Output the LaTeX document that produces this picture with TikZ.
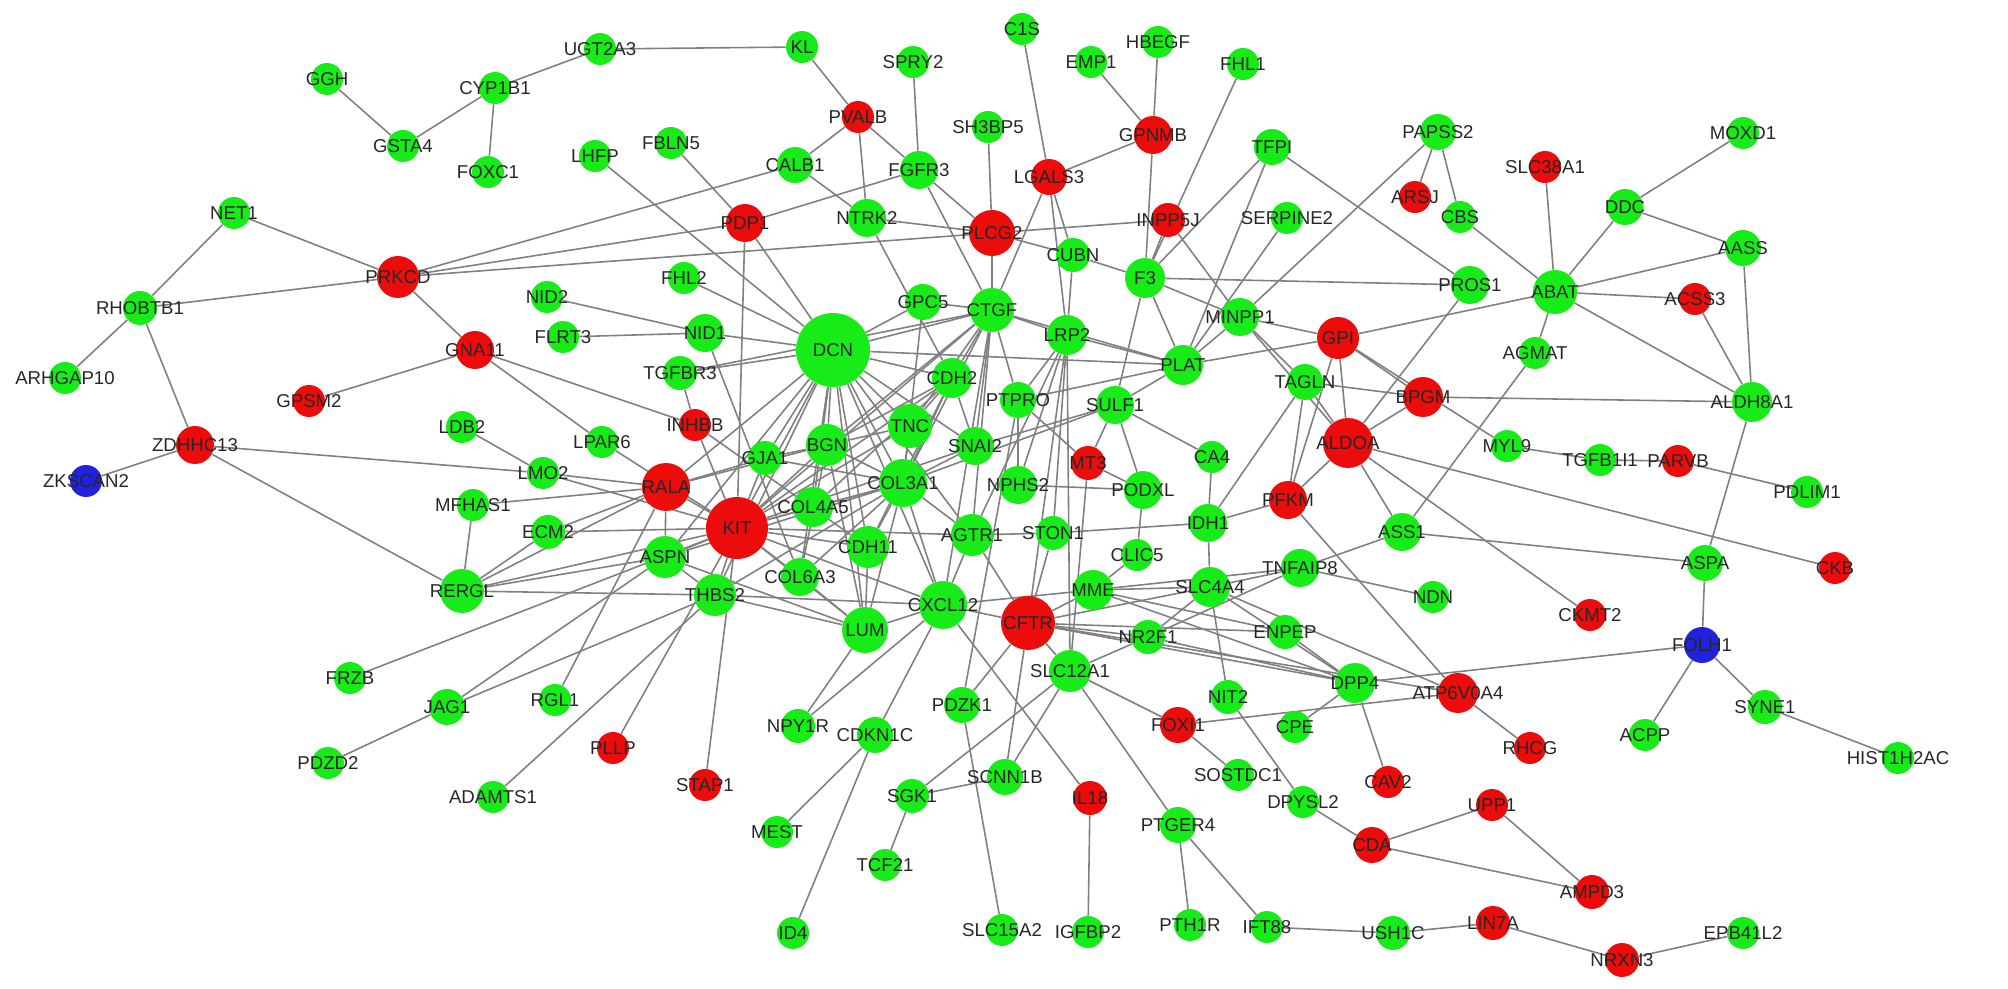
\documentclass[tikz,border=0pt]{standalone}
\usepackage{fontspec}
\setmainfont{Liberation Sans}
\usetikzlibrary{backgrounds}

\definecolor{dngreen}{RGB}{24,236,24}
\definecolor{upred}{RGB}{236,12,12}
\definecolor{midblue}{RGB}{34,34,222}
\definecolor{edgegray}{RGB}{128,128,128}

\begin{document}
\begin{tikzpicture}[
	x=0.02cm, y=-0.02cm,
	% Style for the genes (circles)
	gene/.style={
		circle,
		draw=none,
		inner sep=0pt,
		minimum size=0.04cm*#1
	},
	% Style for the gene names
	genename/.style={
		font=\fontsize{10.6}{12}\selectfont,
		text=black!85,
		inner sep=0pt
	},
	% Style for the interactions
	link/.style={
		draw=edgegray,
		line width=0.9pt
	}
	]
	
	\useasboundingbox (0,0) rectangle (2008,989);
	
	% --- NODES (GENES) ---
	\foreach \g/\x/\y/\r/\c in {
		GGH/327/79/16/dngreen, GSTA4/403/146/16/dngreen, CYP1B1/495/88/16/dngreen,
		FOXC1/488/172/16/dngreen, UGT2A3/600/49/16/dngreen, KL/802/47/16/dngreen,
		SPRY2/913/62/16/dngreen, PVALB/858/117/16/upred, SH3BP5/988/127/16/dngreen,
		LHFP/595/156/16/dngreen, FBLN5/671/143/16/dngreen, CALB1/795/165/18/dngreen,
		FGFR3/919/170/19/dngreen, PDP1/745/223/19/upred, NTRK2/867/218/19/dngreen,
		PLCG2/992/233/23/upred, C1S/1022/29/16/dngreen, HBEGF/1158/42/16/dngreen,
		EMP1/1091/62/16/dngreen, FHL1/1243/64/16/dngreen, GPNMB/1153/135/19/upred,
		TFPI/1272/147/18/dngreen, PAPSS2/1438/132/18/dngreen, LGALS3/1049/177/18/upred,
		ARSJ/1415/197/16/upred, CBS/1460/217/16/dngreen, INPP5J/1168/220/17/upred,
		SERPINE2/1287/218/16/dngreen, CUBN/1073/255/17/dngreen, F3/1145/278/20/dngreen,
		PROS1/1470/285/19/dngreen, MINPP1/1240/317/19/dngreen, GPI/1338/338/21/upred,
		SLC38A1/1545/167/16/upred, MOXD1/1743/133/16/dngreen, DDC/1625/207/18/dngreen,
		AASS/1743/248/18/dngreen, ABAT/1555/292/22/dngreen, ACSS3/1695/299/16/upred,
		AGMAT/1535/353/16/dngreen, ALDH8A1/1752/402/20/dngreen,
		NET1/234/213/16/dngreen, PRKCD/398/277/21/upred, RHOBTB1/140/308/17/dngreen,
		ARHGAP10/65/378/16/dngreen, GNA11/475/350/19/upred, GPSM2/309/401/16/upred,
		ZDHHC13/195/445/19/upred, ZKSCAN2/86/481/16/midblue,
		NID2/547/297/16/dngreen, FHL2/684/278/16/dngreen, FLRT3/563/337/16/dngreen,
		NID1/705/333/19/dngreen, GPC5/923/302/18/dngreen, CTGF/992/310/22/dngreen,
		DCN/833/350/37/dngreen, LRP2/1067/335/20/dngreen, PLAT/1183/365/20/dngreen,
		TGFBR3/680/373/17/dngreen, CDH2/952/378/20/dngreen, PTPRO/1018/400/18/dngreen,
		SULF1/1115/405/19/dngreen, TAGLN/1305/382/18/dngreen, BPGM/1423/397/20/upred,
		INHBB/695/425/16/upred, TNC/910/426/22/dngreen, SNAI2/975/446/19/dngreen,
		ALDOA/1348/443/25/upred, MT3/1088/463/17/upred, CA4/1212/457/16/dngreen,
		LDB2/462/427/16/dngreen, LPAR6/602/442/16/dngreen, LMO2/543/473/16/dngreen,
		BGN/827/445/21/dngreen, GJA1/765/458/17/dngreen, RALA/666/487/24/upred,
		COL3A1/903/483/24/dngreen, NPHS2/1018/485/19/dngreen, PODXL/1143/490/19/dngreen,
		PFKM/1288/500/19/upred, MYL9/1507/446/16/dngreen, TGFB1I1/1600/460/16/dngreen,
		PARVB/1678/461/16/upred, PDLIM1/1807/492/16/dngreen,
		MFHAS1/473/505/16/dngreen, KIT/737/528/31/upred, COL4A5/813/507/20/dngreen,
		AGTR1/972/535/21/dngreen, STON1/1053/533/17/dngreen, IDH1/1208/523/19/dngreen,
		ASS1/1402/532/19/dngreen, ECM2/548/532/17/dngreen, ASPN/665/557/21/dngreen,
		CDH11/868/547/21/dngreen, CLIC5/1137/555/16/dngreen, TNFAIP8/1300/568/19/dngreen,
		ASPA/1705/563/18/dngreen, CKB/1835/568/16/upred, RERGL/462/591/22/dngreen,
		THBS2/715/595/21/dngreen, COL6A3/800/577/19/dngreen, LUM/865/630/23/dngreen,
		CXCL12/943/605/24/dngreen, CFTR/1028/623/27/upred, MME/1093/590/20/dngreen,
		SLC4A4/1210/587/20/dngreen, NDN/1433/597/16/dngreen, CKMT2/1590/615/16/upred,
		NR2F1/1148/637/17/dngreen, ENPEP/1285/632/17/dngreen, FOLH1/1702/645/18/midblue,
		FRZB/350/678/16/dngreen, JAG1/447/707/18/dngreen, RGL1/555/700/16/dngreen,
		NPY1R/798/726/17/dngreen, PDZK1/962/705/18/dngreen, SLC12A1/1070/671/21/dngreen,
		NIT2/1228/697/17/dngreen, DPP4/1355/683/20/dngreen, ATP6V0A4/1458/693/20/upred,
		SYNE1/1765/707/17/dngreen, HIST1H2AC/1898/758/16/dngreen, ACPP/1645/735/16/dngreen,
		RHCG/1530/748/16/upred, PDZD2/328/763/16/dngreen, ADAMTS1/493/797/16/dngreen,
		PLLP/613/748/16/upred, STAP1/705/785/16/upred, CDKN1C/875/735/18/dngreen,
		FOXI1/1178/725/18/upred, CPE/1295/727/16/dngreen, SOSTDC1/1238/775/16/dngreen,
		CAV2/1388/782/16/upred, SCNN1B/1005/777/18/dngreen, IL18/1090/798/17/upred,
		SGK1/912/796/17/dngreen, MEST/777/832/16/dngreen, TCF21/885/865/16/dngreen,
		PTGER4/1178/825/18/dngreen, DPYSL2/1303/802/16/dngreen, UPP1/1492/805/16/upred,
		CDA/1372/845/18/upred, AMPD3/1592/892/17/upred, ID4/793/933/16/dngreen,
		SLC15A2/1002/930/16/dngreen, IGFBP2/1088/932/16/dngreen, PTH1R/1190/925/16/dngreen,
		IFT88/1267/927/16/dngreen, USH1C/1393/933/17/dngreen, LIN7A/1493/923/17/upred,
		NRXN3/1622/960/17/upred, EPB41L2/1743/933/16/dngreen}
	\node[gene=\r, fill=\c] (\g) at (\x,\y) {};
	
	% --- EDGES (INTERACTIONS) ---
	\begin{scope}[on background layer]
		% outer genes
		\foreach \a/\b in {
			GGH/GSTA4, GSTA4/CYP1B1, CYP1B1/FOXC1, CYP1B1/UGT2A3, UGT2A3/KL, KL/PVALB,
			PVALB/CALB1, PVALB/NTRK2, PVALB/FGFR3, SPRY2/FGFR3, NET1/PRKCD, NET1/RHOBTB1,
			RHOBTB1/PRKCD, RHOBTB1/ARHGAP10, RHOBTB1/ZDHHC13, PRKCD/GNA11, PRKCD/CALB1,
			PRKCD/PDP1, PRKCD/PLCG2, PLCG2/INPP5J, CALB1/NTRK2, FGFR3/PDP1, FBLN5/PDP1,
			PDP1/DCN, PDP1/KIT, LHFP/DCN, FHL2/DCN, NID2/NID1, FLRT3/NID1, NID1/DCN,
			NID1/COL6A3, NTRK2/PLCG2, NTRK2/CDH2, FGFR3/PLCG2, FGFR3/CTGF, SH3BP5/PLCG2,
			PLCG2/CTGF, PLCG2/CUBN, C1S/LGALS3, LGALS3/GPNMB, EMP1/GPNMB, HBEGF/GPNMB,
			GPNMB/F3, FHL1/F3, INPP5J/F3, LGALS3/CTGF, LGALS3/LRP2, LGALS3/CUBN, CUBN/LRP2,
			CUBN/F3, INPP5J/MINPP1, TFPI/F3, TFPI/PLAT, TFPI/PROS1, SERPINE2/PLAT,
			PAPSS2/MINPP1, PAPSS2/ARSJ, PAPSS2/CBS, CBS/ABAT, SLC38A1/ABAT, DDC/ABAT,
			DDC/MOXD1, DDC/AASS, ABAT/AASS, ABAT/ACSS3, ABAT/ALDH8A1, ABAT/AGMAT, ABAT/GPI,
			PROS1/ALDOA, F3/PROS1, ACSS3/ALDH8A1, AASS/ALDH8A1, ALDH8A1/BPGM, ALDH8A1/ASPA,
			AGMAT/ASS1, GPI/MYL9, MYL9/TGFB1I1, TGFB1I1/PARVB, PARVB/PDLIM1, ALDOA/CKB,
			ALDOA/CKMT2, ASS1/ASPA, ASPA/FOLH1, DPP4/FOLH1, FOLH1/ACPP, FOLH1/SYNE1,
			SYNE1/HIST1H2AC, ATP6V0A4/RHCG, UPP1/AMPD3, CDA/UPP1, CDA/AMPD3, LIN7A/NRXN3,
			NRXN3/EPB41L2, USH1C/LIN7A, IFT88/USH1C, PTGER4/IFT88, PTGER4/PTH1R,
			SLC12A1/PTGER4, IL18/IGFBP2, DPYSL2/CDA, NIT2/DPYSL2, FOXI1/SOSTDC1,
			FOXI1/ATP6V0A4, DPP4/CPE, DPP4/CAV2, SLC12A1/FOXI1, SLC12A1/SCNN1B,
			SLC12A1/NR2F1, SLC12A1/SGK1, SGK1/SCNN1B, SGK1/TCF21, PDZK1/SLC15A2,
			PDZK1/PTPRO, CFTR/PDZK1, NPY1R/LUM, NPY1R/CXCL12, CDKN1C/MEST, CDKN1C/ID4,
			CDKN1C/CXCL12, STAP1/KIT, PLLP/KIT, ADAMTS1/THBS2, RGL1/RALA, JAG1/ASPN,
			JAG1/THBS2, FRZB/KIT, PDZD2/JAG1, ZKSCAN2/ZDHHC13, ZDHHC13/RERGL, ZDHHC13/LMO2,
			GNA11/GPSM2, GNA11/INHBB, GNA11/LPAR6, LDB2/LMO2, MFHAS1/RERGL, MFHAS1/RALA,
			IL18/CXCL12}
		\draw[link] (\a) -- (\b);
		% dense core
		\foreach \a/\b in {
			DCN/TGFBR3, DCN/GPC5, DCN/CTGF, DCN/CDH2, DCN/TNC, DCN/BGN, DCN/COL3A1,
			DCN/COL4A5, DCN/GJA1, DCN/KIT, DCN/RALA, DCN/ASPN, DCN/THBS2, DCN/LUM,
			DCN/CXCL12, DCN/CDH11, DCN/COL6A3, DCN/AGTR1, DCN/PLAT, DCN/SNAI2,
			TGFBR3/INHBB, TGFBR3/CTGF, INHBB/KIT, INHBB/CDH11, KIT/LPAR6, KIT/LMO2,
			KIT/RALA, KIT/ASPN, KIT/THBS2, KIT/GJA1, KIT/BGN, KIT/COL3A1, KIT/COL4A5,
			KIT/CDH11, KIT/COL6A3, KIT/LUM, KIT/CXCL12, KIT/AGTR1, KIT/CTGF, KIT/TNC,
			KIT/CDH2, KIT/RERGL, KIT/ECM2, KIT/SNAI2, RALA/ASPN, RALA/ECM2, RALA/RERGL,
			RALA/GJA1, RALA/BGN, RALA/LMO2, ECM2/RERGL, ASPN/RERGL, THBS2/RERGL,
			ASPN/THBS2, CTGF/GPC5, CTGF/LRP2, CTGF/CDH2, CTGF/TNC, CTGF/COL3A1,
			CTGF/SNAI2, CTGF/PTPRO, CTGF/AGTR1, CTGF/CXCL12, CTGF/BGN, CTGF/PLAT,
			GPC5/COL3A1, CDH2/TNC, CDH2/COL3A1, CDH2/BGN, CDH2/SNAI2, CDH2/CDH11,
			CDH2/COL4A5, COL3A1/BGN, COL3A1/TNC, COL3A1/COL4A5, COL3A1/CDH11,
			COL3A1/COL6A3, COL3A1/LUM, COL3A1/SULF1, COL3A1/SNAI2, COL3A1/AGTR1,
			COL3A1/CXCL12, COL3A1/THBS2, COL3A1/ASPN, COL3A1/GJA1, BGN/LUM, BGN/COL6A3,
			BGN/TNC, BGN/GJA1, LUM/COL6A3, LUM/CDH11, LUM/THBS2, LUM/CXCL12, LUM/ASPN,
			CXCL12/AGTR1, CXCL12/CFTR, CXCL12/MME, CXCL12/THBS2, LRP2/PLAT, LRP2/CFTR,
			LRP2/PTPRO, LRP2/STON1, LRP2/SLC12A1, LRP2/AGTR1, LRP2/NPHS2, SULF1/PLAT,
			SULF1/CA4, SULF1/PODXL, SULF1/SNAI2, SULF1/MT3, MT3/PTPRO, MT3/PODXL,
			MT3/SLC12A1, PTPRO/NPHS2, PTPRO/PLAT, PODXL/NPHS2, PODXL/CLIC5, CA4/IDH1,
			STON1/IDH1, AGTR1/STON1, CLIC5/MME, IDH1/TAGLN, IDH1/PFKM, IDH1/SLC4A4,
			MME/SLC4A4, MME/TNFAIP8, MME/DPP4, MME/ENPEP, MME/CFTR, SLC4A4/NR2F1,
			SLC4A4/TNFAIP8, SLC4A4/CFTR, SLC4A4/NIT2, SLC4A4/ATP6V0A4, SLC4A4/DPP4,
			TNFAIP8/ASS1, TNFAIP8/NDN, TNFAIP8/NR2F1, PFKM/ALDOA, PFKM/TAGLN,
			PFKM/ATP6V0A4, ALDOA/GPI, ALDOA/BPGM, ALDOA/TAGLN, ALDOA/ASS1, ALDOA/MINPP1,
			GPI/BPGM, GPI/MINPP1, GPI/PLAT, GPI/PFKM, BPGM/TAGLN, MINPP1/PLAT,
			MINPP1/TAGLN, PLAT/F3, F3/MINPP1, F3/SULF1, CFTR/SLC12A1, CFTR/SCNN1B,
			CFTR/NR2F1, CFTR/DPP4, CFTR/ATP6V0A4, CFTR/ENPEP, CFTR/AGTR1, CFTR/STON1,
			ENPEP/DPP4, NR2F1/DPP4}
		\draw[link] (\a) -- (\b);
	\end{scope}
	
	% --- LABELS (on top of everything) ---
	\foreach \g in {GGH, GSTA4, CYP1B1, FOXC1, UGT2A3, KL, SPRY2, PVALB, SH3BP5, LHFP,
		FBLN5, CALB1, FGFR3, PDP1, NTRK2, PLCG2, C1S, HBEGF, EMP1, FHL1, GPNMB, TFPI,
		PAPSS2, LGALS3, ARSJ, CBS, INPP5J, SERPINE2, CUBN, F3, PROS1, MINPP1, GPI,
		SLC38A1, MOXD1, DDC, AASS, ABAT, ACSS3, AGMAT, ALDH8A1, NET1, PRKCD, RHOBTB1,
		ARHGAP10, GNA11, GPSM2, ZDHHC13, ZKSCAN2, NID2, FHL2, FLRT3, NID1, GPC5, CTGF,
		DCN, LRP2, PLAT, TGFBR3, CDH2, PTPRO, SULF1, TAGLN, BPGM, INHBB, TNC, SNAI2,
		ALDOA, MT3, CA4, LDB2, LPAR6, LMO2, BGN, GJA1, RALA, COL3A1, NPHS2, PODXL, PFKM,
		MYL9, TGFB1I1, PARVB, PDLIM1, MFHAS1, KIT, COL4A5, AGTR1, STON1, IDH1, ASS1,
		ECM2, ASPN, CDH11, CLIC5, TNFAIP8, ASPA, CKB, RERGL, THBS2, COL6A3, LUM, CXCL12,
		CFTR, MME, SLC4A4, NDN, CKMT2, NR2F1, ENPEP, FOLH1, FRZB, JAG1, RGL1, NPY1R,
		PDZK1, SLC12A1, NIT2, DPP4, ATP6V0A4, SYNE1, HIST1H2AC, ACPP, RHCG, PDZD2,
		ADAMTS1, PLLP, STAP1, CDKN1C, FOXI1, CPE, SOSTDC1, CAV2, SCNN1B, IL18, SGK1,
		MEST, TCF21, PTGER4, DPYSL2, UPP1, CDA, AMPD3, ID4, SLC15A2, IGFBP2, PTH1R,
		IFT88, USH1C, LIN7A, NRXN3, EPB41L2}
	\node[genename] at (\g) {\g};
	
\end{tikzpicture}
\end{document}
